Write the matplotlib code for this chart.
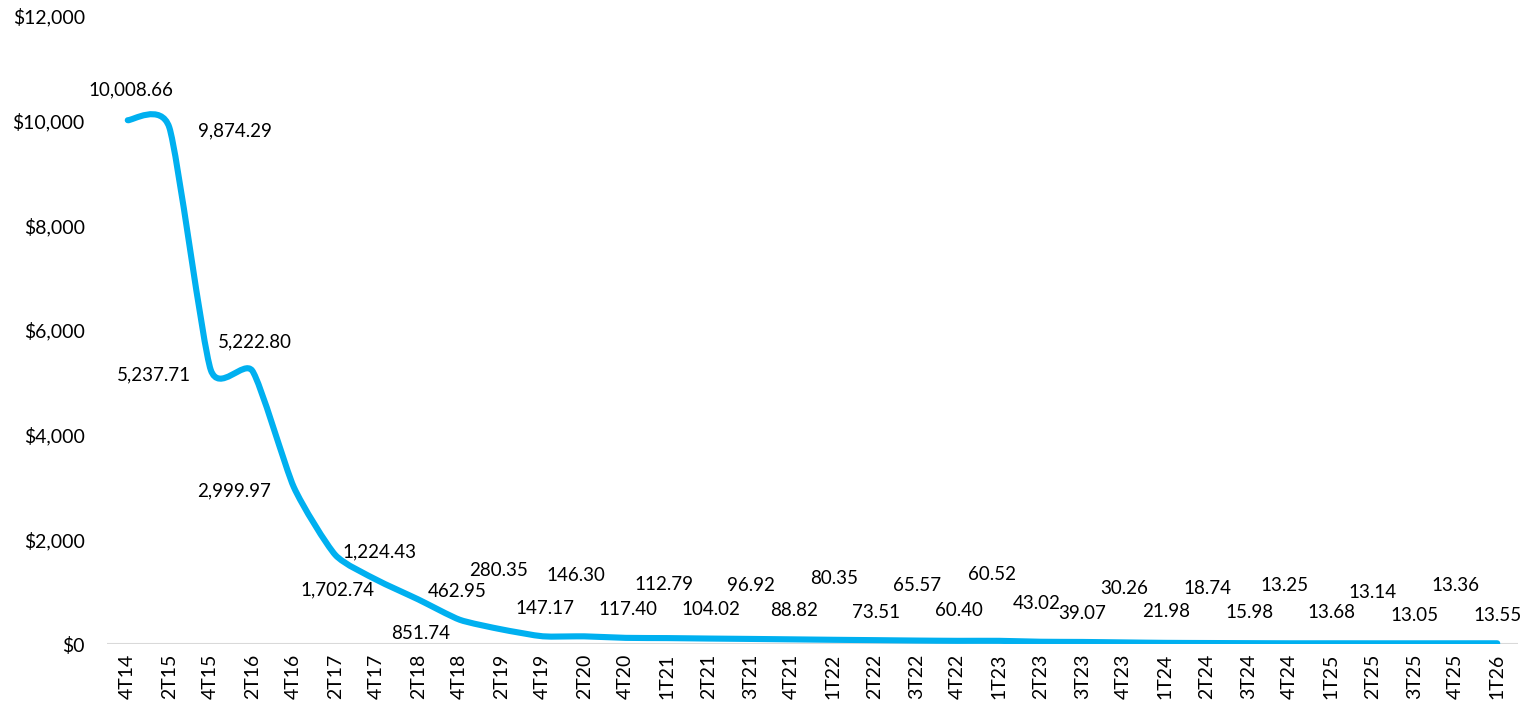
import numpy as np
import matplotlib
matplotlib.use("Agg")
import matplotlib.pyplot as plt
from matplotlib.path import Path
from matplotlib.patches import PathPatch

# ── datos ────────────────────────────────────────────────
periods = ["4T14", "2T15", "4T15", "2T16", "4T16", "2T17", "4T17", "2T18",
           "4T18", "2T19", "4T19", "2T20", "4T20", "1T21", "2T21", "3T21",
           "4T21", "1T22", "2T22", "3T22", "4T22", "1T23", "2T23", "3T23",
           "4T23", "1T24", "2T24", "3T24", "4T24", "1T25", "2T25", "3T25",
           "4T25", "1T26"]
values = [10008.66, 9874.29, 5237.71, 5222.80, 2999.97, 1702.74, 1224.43,
          851.74, 462.95, 280.35, 147.17, 146.30, 117.40, 112.79, 104.02,
          96.92, 88.82, 80.35, 73.51, 65.57, 60.40, 60.52, 43.02, 39.07,
          30.26, 21.98, 18.74, 15.98, 13.25, 13.68, 13.14, 13.05, 13.36, 13.55]
y_ticks = [0, 2000, 4000, 6000, 8000, 10000, 12000]

# desplazamiento de etiquetas (pixeles) respecto al punto
label_off = [(3, 30), (66, -4), (-57, -5), (3, 29), (-60, -4), (2, -35),
             (3, 28), (2, -34), (-3, 28), (-3, 59), (2, 28), (-8, 61),
             (2, 28), (-3, 54), (2, 29), (1, 53), (2, 29), (1, 61), (1, 28),
             (1, 55), (1, 30), (-7, 66), (-4, 38), (0, 28), (0, 54), (1, 31),
             (1, 55), (1, 31), (-5, 58), (0, 31), (0, 51), (0, 28), (0, 58),
             (0, 28)]

LINE_COLOR = "#00B0F0"
FONT = ["Lato", "DejaVu Sans"]
plt.rcParams["font.family"] = FONT

fig = plt.figure(figsize=(15.38, 7.15), dpi=100)
ax = fig.add_axes([107 / 1538, 71 / 715, 1411 / 1538, 628 / 715])

x = np.arange(len(values))
y = np.array(values)

# linea suavizada (bezier, estilo Excel)
t = 0.1
verts = [(x[0], y[0])]
codes = [Path.MOVETO]
n = len(x)
for i in range(n - 1):
    x0, y0 = x[max(i - 1, 0)], y[max(i - 1, 0)]
    x1, y1 = x[i], y[i]
    x2, y2 = x[i + 1], y[i + 1]
    x3, y3 = x[min(i + 2, n - 1)], y[min(i + 2, n - 1)]
    c1 = (x1 + (x2 - x0) * t, y1 + (y2 - y0) * t)
    c2 = (x2 - (x3 - x1) * t, y2 - (y3 - y1) * t)
    verts += [c1, c2, (x2, y2)]
    codes += [Path.CURVE4] * 3
ax.add_patch(PathPatch(Path(verts, codes), facecolor="none",
                       edgecolor=LINE_COLOR, lw=4.4, capstyle="round",
                       joinstyle="round", zorder=3))

for i, v in enumerate(values):
    ax.annotate(f"{v:,.2f}", (x[i], y[i]), xytext=label_off[i],
                textcoords="offset pixels", ha="center", va="center",
                fontsize=13.5, color="#000000", zorder=4)

ax.axhline(0, color="#D9D9D9", lw=1.5, zorder=1)
ax.set_xlim(-0.5, n - 0.5)
ax.set_ylim(0, 12000)
ax.set_xticks(x)
ax.set_xticklabels(periods, rotation=90, fontsize=14)
ax.set_yticks(y_ticks)
ax.set_yticklabels([f"${v:,.0f}" for v in y_ticks], fontsize=14)
ax.tick_params(axis="both", length=0, colors="#000000")
ax.tick_params(axis="y", pad=16)
ax.tick_params(axis="x", pad=7)
for s in ax.spines.values():
    s.set_visible(False)

plt.savefig("out.png", dpi=100)
